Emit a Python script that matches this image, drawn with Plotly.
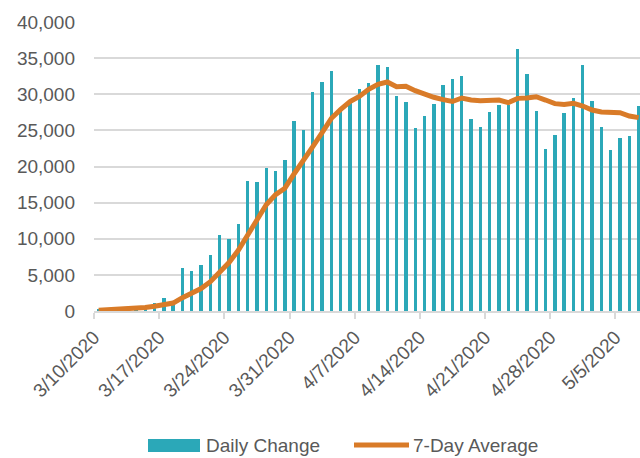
import plotly.graph_objects as go
import pandas as pd

dates = pd.date_range("2020-03-10", "2020-05-07", freq="D").strftime("%Y-%m-%d").tolist()

daily_change = [
    300, 350, 400, 500, 550, 700, 1100, 1800, 1300, 5990,
    5540, 6320, 7700, 10560, 9920, 12000, 18030, 17800, 19750, 19420,
    20870, 26340, 25050, 30360, 31700, 33220, 27800, 28830, 30730, 31510,
    34090, 33730, 29800, 28930, 25280, 27030, 28650, 31240, 32110, 32480,
    26620, 25510, 27590, 28490, 28500, 36200, 32800, 27680, 22420, 24360,
    27360, 29480, 34050, 29020, 25510, 22330, 23950, 24270, 28400,
]

seven_day_avg = [
    100, 150, 230, 300, 380, 470, 650, 850, 1100, 1850,
    2450, 3100, 4060, 5400, 6700, 8400, 10600, 12800, 14700, 16100,
    17000, 19000, 20760, 22740, 24680, 26670, 27910, 29000, 29700, 30690,
    31380, 31700, 31050, 31100, 30490, 29990, 29580, 29250, 29000, 29480,
    29200, 29110, 29200, 29200, 28830, 29430, 29480, 29660, 29200, 28700,
    28600, 28740, 28370, 27820, 27540, 27540, 27450, 26990, 26760,
]

tick_dates = ["2020-03-10", "2020-03-17", "2020-03-24", "2020-03-31", "2020-04-07",
              "2020-04-14", "2020-04-21", "2020-04-28", "2020-05-05"]
tick_labels = ["3/10/2020", "3/17/2020", "3/24/2020", "3/31/2020", "4/7/2020",
               "4/14/2020", "4/21/2020", "4/28/2020", "5/5/2020"]

TEAL = "#2BA8B8"
ORANGE = "#D97B28"
GREY_TXT = "#595959"
GRID = "#D9D9D9"
FONT = "Liberation Sans, Arial, sans-serif"
DAY_MS = 86400000

fig = go.Figure()
fig.add_trace(go.Bar(
    x=dates, y=daily_change, name="Daily Change",
    marker=dict(color=TEAL, line=dict(width=0)),
    xperiod=DAY_MS, xperiodalignment="middle",
    width=0.36 * DAY_MS,
    showlegend=False,
))
fig.add_trace(go.Scatter(
    x=dates, y=seven_day_avg, name="7-Day Average", mode="lines",
    line=dict(color=ORANGE, width=5),
    xperiod=DAY_MS, xperiodalignment="middle",
    showlegend=False,
))

# custom legend (page pixel -> paper coords; plot area spans x 94..640, y 22..311)
W = 546.0
H = 289.0
def px(x):
    return (x - 94) / W
def py(y):
    return (311 - y) / H

fig.add_shape(type="rect", xref="paper", yref="paper",
              x0=px(148), x1=px(200), y0=py(452), y1=py(439),
              fillcolor=TEAL, line=dict(width=0))
fig.add_shape(type="line", xref="paper", yref="paper",
              x0=px(354), x1=px(409), y0=py(445), y1=py(445),
              line=dict(color=ORANGE, width=5))
fig.add_annotation(xref="paper", yref="paper", x=px(204), y=py(445),
                   text="Daily Change", showarrow=False, xanchor="left", yanchor="middle",
                   font=dict(family=FONT, size=19, color=GREY_TXT))
fig.add_annotation(xref="paper", yref="paper", x=px(411), y=py(445),
                   text="7-Day Average", showarrow=False, xanchor="left", yanchor="middle",
                   font=dict(family=FONT, size=19, color=GREY_TXT))

fig.update_layout(
    width=640, height=458, autosize=False,
    margin=dict(l=94, r=0, t=22, b=147),
    plot_bgcolor="white", paper_bgcolor="white",
    font=dict(family=FONT, size=19, color=GREY_TXT),
    bargap=0,
)
fig.update_xaxes(
    type="date",
    range=["2020-03-10", "2020-05-07 15:30"],
    tickvals=tick_dates, ticktext=tick_labels,
    tickangle=-45,
    showgrid=False, showline=True, linecolor=GRID, linewidth=1.5,
    ticks="outside", ticklen=6, tickcolor=GRID, tickwidth=1.5,
    tickfont=dict(family=FONT, size=19, color=GREY_TXT),
    zeroline=False, automargin=False,
)
fig.update_yaxes(
    range=[0, 40000], dtick=5000, tickformat=",",
    showgrid=True, gridcolor=GRID, gridwidth=1.5,
    zeroline=False, showline=False,
    ticklabelstandoff=18, automargin=False,
    tickfont=dict(family=FONT, size=19, color=GREY_TXT),
)

# remove the page's default body margin so the 640x458 figure fills the window exactly
fig.write_html(
    "out.html",
    config={"displayModeBar": False},
    post_script="document.body.style.margin='0';document.body.style.overflow='hidden';",
)
